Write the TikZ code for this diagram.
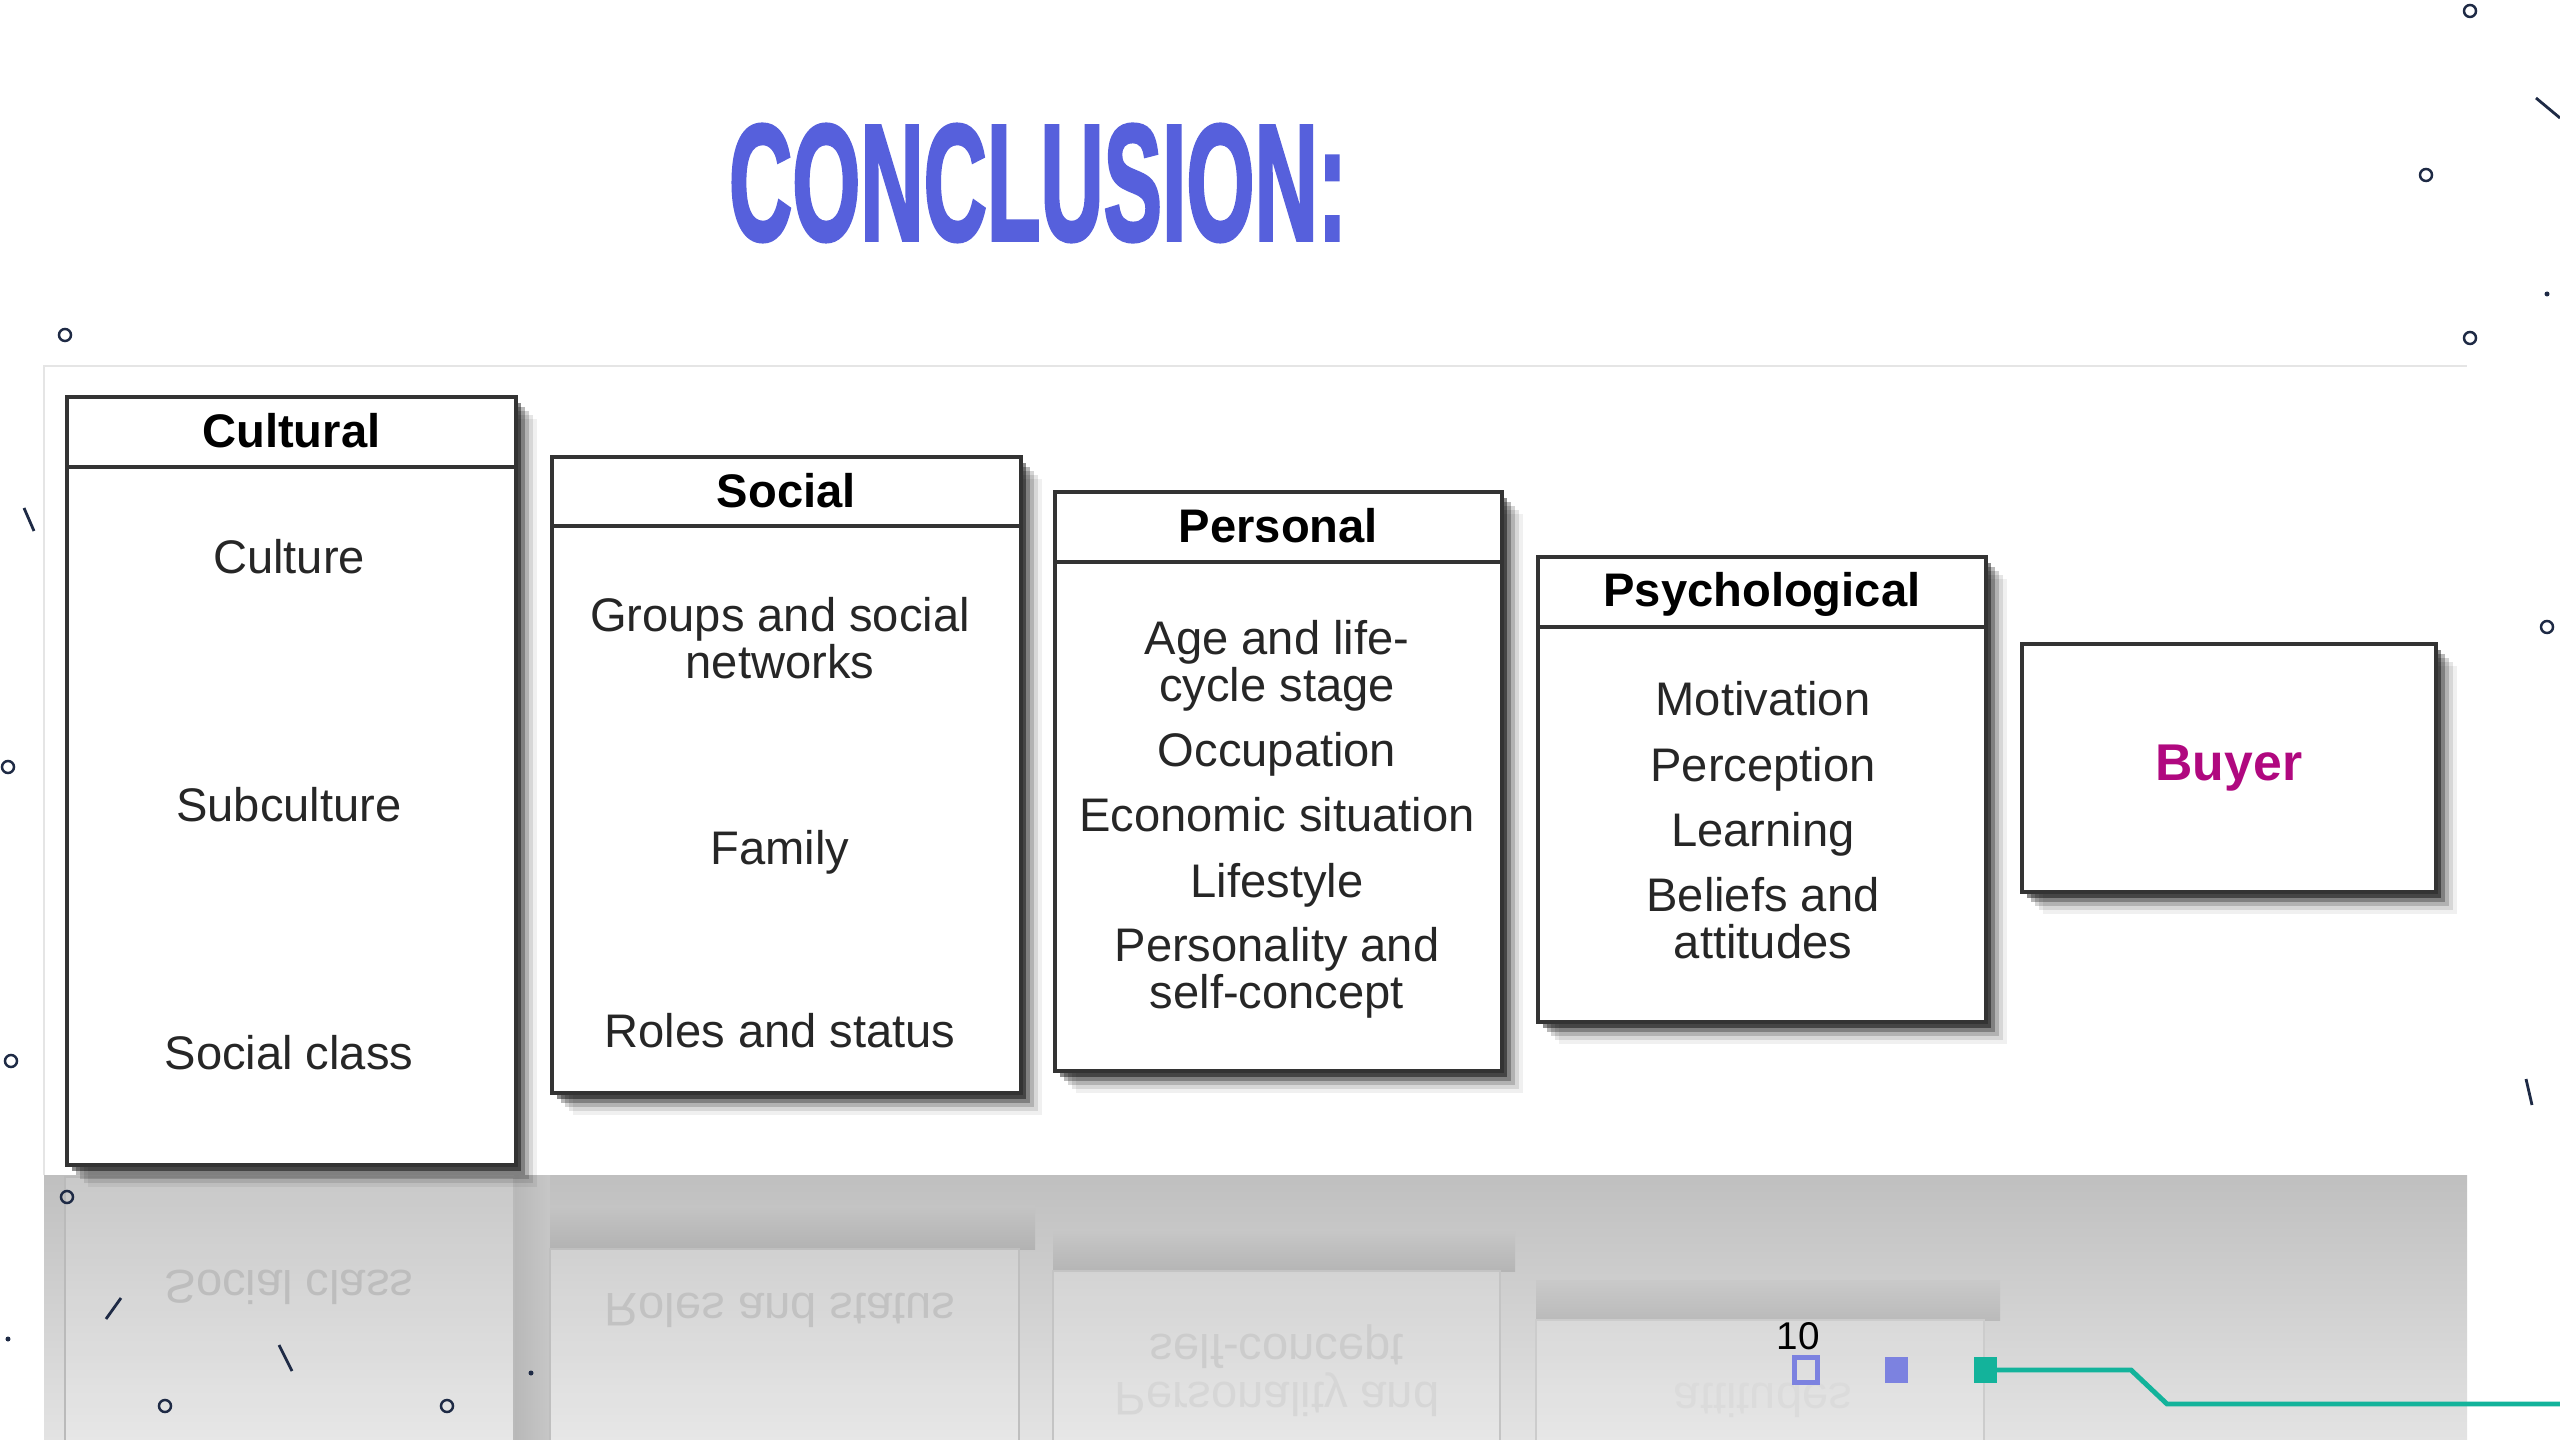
\documentclass[tikz,border=0pt]{standalone}
\usepackage{fontspec}
\setmainfont{Liberation Sans}
\newfontfamily\titlefont{Liberation Sans}[BoldFeatures={FakeBold=2.5}]
\usepackage{xcolor}
\usepackage{tikz}
\usetikzlibrary{shadows, positioning}
\definecolor{titleblue}{HTML}{5660DC}
\definecolor{buyerpink}{HTML}{B0087F}
\definecolor{dotnavy}{HTML}{1E2A45}
\definecolor{lilac}{HTML}{7C82E0}
\definecolor{tealc}{HTML}{13B39B}
\tikzset{softshadow/.style={drop shadow={shadow xshift=0.05cm, shadow yshift=-0.06cm, opacity=0.45, fill=black},
    drop shadow={shadow xshift=0.09cm, shadow yshift=-0.10cm, opacity=0.28, fill=black},
    drop shadow={shadow xshift=0.13cm, shadow yshift=-0.14cm, opacity=0.17, fill=black},
    drop shadow={shadow xshift=0.17cm, shadow yshift=-0.18cm, opacity=0.10, fill=black},
    drop shadow={shadow xshift=0.21cm, shadow yshift=-0.22cm, opacity=0.06, fill=black}}}
\tikzstyle{divider} = [draw=black!80, line width=1pt]

\begin{document}
\begin{tikzpicture}[x=0.01cm, y=-0.01cm]
    \tikzstyle{frame} = [rectangle, draw=black!80, line width=1pt, fill=white, anchor=north west, inner sep=0pt, softshadow]
    \tikzstyle{head} = [font=\fontsize{13.4}{13.4}\selectfont\bfseries, inner sep=0pt]
    \tikzstyle{item} = [font=\fontsize{13.4}{13.4}\selectfont, text=black!85, align=center, inner sep=0pt]
    \tikzstyle{ghost} = [font=\fontsize{13.4}{13.4}\selectfont, inner sep=0pt]
    \tikzstyle{mirror} = [fill=white, fill opacity=0.15, line width=0.8pt]
    \tikzstyle{ring} = [circle, draw=dotnavy, line width=0.7pt, minimum size=0.12cm, inner sep=0pt]
    \tikzstyle{dot} = [circle, fill=dotnavy, minimum size=0.05cm, inner sep=0pt]
    \tikzstyle{slash} = [draw=dotnavy, line width=0.8pt]
    \tikzstyle{pgsq} = [rectangle, minimum width=0.23cm, minimum height=0.25cm, inner sep=0pt]

    \useasboundingbox (0,0) rectangle (2560,1440);
    \fill[white] (0,0) rectangle (2560,1440);

    \node[font=\titlefont\fontsize{47}{47}\selectfont\bfseries, text=titleblue, inner sep=0pt] (title) at (1038,183) {\scalebox{0.53}[1]{CONCLUSION:}};

    \draw[black!10, line width=0.6pt] (44,1175) -- (44,366) -- (2467,366);

    \begin{scope}
        \clip (44,1175) rectangle (2467,1440);
        \shade[top color=black!25, bottom color=black!11] (44,1175) rectangle (2467,1440);
        \shade[left color=black!28, right color=black!22] (514,1175) rectangle (550,1440);
        \shade[top color=black!23, bottom color=black!30] (550,1205) rectangle (1035,1249);
        \shade[top color=black!22, bottom color=black!29] (1053,1230) rectangle (1515,1271);
        \shade[top color=black!21, bottom color=black!27] (1536,1280) rectangle (2000,1320);
        \draw[mirror, draw=black!27] (65,1177) rectangle (514,1945);
        \draw[mirror, draw=black!25] (550,1249) rectangle (1019,1885);
        \draw[mirror, draw=black!23] (1053,1271) rectangle (1500,1850);
        \draw[mirror, draw=black!20] (1536,1320) rectangle (1984,1785);
        \node[ghost, text=black!26] (ghostA) at (289,1287) {\scalebox{1}[-1]{Social class}};
        \node[ghost, text=black!24] (ghostB) at (780,1310) {\scalebox{1}[-1]{Roles and status}};
        \node[ghost, text=black!20] (ghostC) at (1277,1347) {\scalebox{1}[-1]{self-concept}};
        \node[ghost, text=black!16] (ghostD) at (1277,1395) {\scalebox{1}[-1]{Personality and}};
        \node[ghost, text=black!14] (ghostE) at (1763,1400) {\scalebox{1}[-1]{attitudes}};
    \end{scope}

    \node[frame, minimum width=4.49cm, minimum height=7.68cm] (cult) at (65,395) {};
    \node[frame, minimum width=4.69cm, minimum height=6.36cm] (soc) at (550,455) {};
    \node[frame, minimum width=4.47cm, minimum height=5.79cm] (pers) at (1053,490) {};
    \node[frame, minimum width=4.48cm, minimum height=4.65cm] (psy) at (1536,555) {};
    \node[frame, minimum width=4.14cm, minimum height=2.48cm, font=\fontsize{14.7}{14.7}\selectfont\bfseries, text=buyerpink] (buyer) at (2020,642) {Buyer};

    \draw[divider] ([yshift=-0.72cm]cult.north west) -- ([yshift=-0.72cm]cult.north east);
    \draw[divider] ([yshift=-0.71cm]soc.north west) -- ([yshift=-0.71cm]soc.north east);
    \draw[divider] ([yshift=-0.72cm]pers.north west) -- ([yshift=-0.72cm]pers.north east);
    \draw[divider] ([yshift=-0.72cm]psy.north west) -- ([yshift=-0.72cm]psy.north east);

    \node[head] (cultHead) at ([yshift=-0.36cm]cult.north) {Cultural};
    \node[head] (socHead) at ([yshift=-0.355cm]soc.north) {Social};
    \node[head] (persHead) at ([yshift=-0.36cm]pers.north) {Personal};
    \node[head] (psyHead) at ([yshift=-0.39cm]psy.north) {Psychological};

    \node[item] (culture) at (289,557) {Culture};
    \node[item] (subcult) at (289,805) {Subculture};
    \node[item] (socclass) at (289,1053) {Social class};

    \node[item] (groups) at (780,638) {Groups and social\\networks};
    \node[item] (family) at (780,852) {Family};
    \node[item] (roles) at (780,1031) {Roles and status};

    \node[item] (age) at (1277,666) {Age and life-\\cycle stage};
    \node[item] (occup) at (1277,754) {Occupation};
    \node[item] (econ) at (1277,815) {Economic situation};
    \node[item] (lifest) at (1277,885) {Lifestyle};
    \node[item] (person) at (1277,973) {Personality and\\self-concept};

    \node[item] (motiv) at (1763,699) {Motivation};
    \node[item] (percep) at (1763,769) {Perception};
    \node[item] (learn) at (1763,834) {Learning};
    \node[item] (belief) at (1763,918) {Beliefs and\\attitudes};

    \foreach \px/\py [count=\i] in {65/335, 2470/11, 2426/175, 2470/338, 2547/627, 8/767, 11/1061, 67/1197, 165/1406, 447/1406}
        \node[ring] (ring\i) at (\px,\py) {};
    \foreach \px/\py [count=\i] in {2547/294, 8/1339, 531/1373}
        \node[dot] (dot\i) at (\px,\py) {};
    \draw[slash] (2536,98) -- (2560,118);
    \draw[slash] (24,508) -- (34,531);
    \draw[slash] (2526,1079) -- (2532,1105);
    \draw[slash] (106,1319) -- (121,1298);
    \draw[slash] (279,1345) -- (292,1371);

    \node[font=\fontsize{11}{11}\selectfont, inner sep=0pt] (pagenum) at (1798,1336) {10};
    \node[pgsq, draw=lilac, line width=1.4pt] (pg1) at (1806,1370) {};
    \node[pgsq, fill=lilac] (pg2) at (1896,1370) {};
    \node[pgsq, fill=tealc] (pg3) at (1985,1370) {};
    \coordinate (tailend) at (2560,1404);
    \draw[tealc, line width=1.4pt] (pg3.east) -- (2131,1370) -- (2167,1404) -- (tailend);
\end{tikzpicture}
\end{document}
